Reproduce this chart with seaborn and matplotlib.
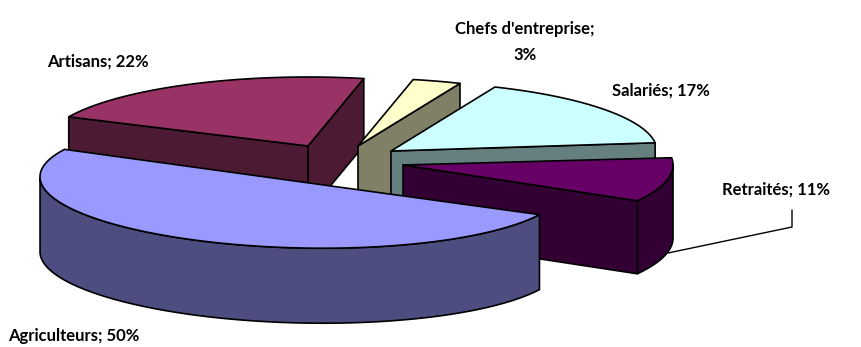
import numpy as np
import seaborn as sns
import matplotlib
matplotlib.use("Agg")
import matplotlib.pyplot as plt
from matplotlib.patches import Polygon

# Survey shares, in clockwise order starting from the back-left slice
categories = ["Artisans", "Chefs d'entreprise", "Salariés", "Retraités", "Agriculteurs"]
shares = [22, 3, 17, 11, 50]

# Colours of each slice: top face and shaded side
top_colors = sns.color_palette(["#993366", "#FFFFCC", "#CCFFFF", "#660066", "#9999FF"])
side_colors = sns.color_palette(["#4D1A33", "#808066", "#668080", "#330033", "#4D4D80"])

# Exploded pie layout, in figure pixels
START_ANGLE = 295.0
centers_x = [308, 358, 391, 403, 302]
centers_y = [146, 146, 151, 165, 182]
radii_x = [264, 261, 266, 270, 262]
radii_y = [69, 68, 69.5, 72, 66]
depths = [67, 70, 70, 73, 75]
tilts = [0, 0, 0, 0, 0.02]
start_trim = [0, -2, -2, -2, -10.8]
end_trim = [-2, -2, -3, -6, -10.8]

# Label anchors (left edge, vertical centre)
label_x = [47, 525, 612, 722, 8]
label_y = [62, 42, 91, 190, 336]

sns.set_theme(style="white")
plt.rcParams["font.family"] = ["Lato", "DejaVu Sans"]

fig = plt.figure(figsize=(8.61, 3.47), dpi=100, facecolor="white")
ax = fig.add_axes([0, 0, 1, 1])
ax.set_xlim(0, 861)
ax.set_ylim(347, 0)
ax.axis("off")


def rim(phi_deg, cx, cy, rx, ry, tilt):
    """Screen position of points on the rim of a slice's top face."""
    phi = np.radians(phi_deg)
    x = rx * np.sin(phi)
    y = -ry * np.cos(phi) + tilt * x
    return np.column_stack([cx + x, cy + y])


def face(points, color, z):
    ax.add_patch(Polygon(points, closed=True, facecolor=color, edgecolor="black",
                         linewidth=1.2, joinstyle="round", zorder=z))


edges = START_ANGLE + np.concatenate([[0], np.cumsum(shares)]) * 3.6

for i, name in enumerate(categories):
    a0 = edges[i] + start_trim[i]
    a1 = edges[i + 1] + end_trim[i]
    cx, cy, rx, ry, d, t = (centers_x[i], centers_y[i], radii_x[i], radii_y[i],
                            depths[i], tilts[i])
    drop = np.array([0, d])
    apex = np.array([cx, cy], dtype=float)
    base = 10 * i

    # Rim band: only the part turned towards the viewer
    phis = np.linspace(a0, a1, 160)
    front = np.cos(np.radians(phis)) < 0
    if front.any():
        pts = rim(phis[front], cx, cy, rx, ry, t)
        face(np.vstack([pts, pts[::-1] + drop]), side_colors[i], base + 1)

    # Radial cut faces, when their normal points towards the viewer
    for phi, normal in ((a0, a0 - 90), (a1, a1 + 90)):
        if -np.cos(np.radians(normal)) > 0:
            p = rim(np.array([phi]), cx, cy, rx, ry, t)[0]
            face(np.array([apex, p, p + drop, apex + drop]), side_colors[i], base + 2)

    # Top face
    face(np.vstack([apex, rim(phis, cx, cy, rx, ry, t)]), top_colors[i], base + 3)

# Text labels built from the shares
for i, name in enumerate(categories):
    if name.startswith("Chefs"):
        text = f"{name};\n{shares[i]}%"
        ax.text(label_x[i], label_y[i], text, ha="center", va="center", fontsize=12,
                fontweight="bold", color="black", linespacing=1.75, zorder=100)
    else:
        ax.text(label_x[i], label_y[i], f"{name}; {shares[i]}%", ha="left", va="center",
                fontsize=12, fontweight="bold", color="black", zorder=100)

# Leader line for the Retraités label
ax.plot([792, 792, 668], [210, 227, 253], color="black", lw=1.0, zorder=5, solid_joinstyle="miter")

fig.savefig("out.png", dpi=100, facecolor="white")
